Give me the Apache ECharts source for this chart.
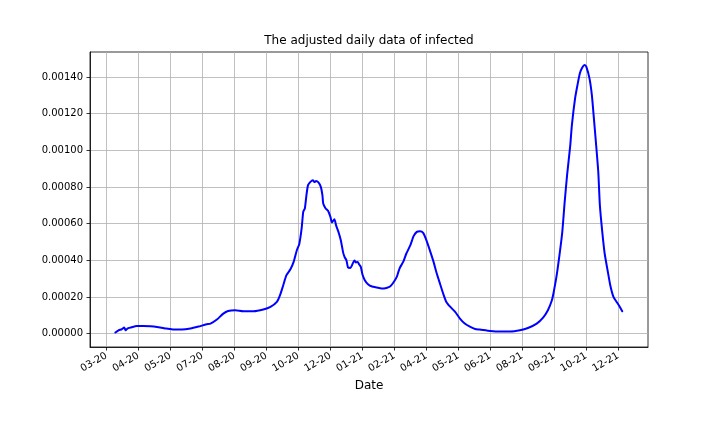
<!DOCTYPE html>
<html><head><meta charset="utf-8">
<script src="https://cdn.jsdelivr.net/npm/echarts@6/dist/echarts.min.js"></script>
<style>html,body{margin:0;padding:0;background:#fff}#c{width:720px;height:432px}</style>
</head><body><div id="c"></div>
<script>
// x = days since 2020-03-04 (date of the first labelled tick)
const days = [11,15,19,22,24,26,30,38,46,55,65,75,84,94,105,115,125,130,138,146,152,161,171,184,196,205,213,217,221,225,230,234,238,241,244,246,248,250,252,255,258,260,262,265,268,270,271,274,277,280,282,285,287,290,293,296,298,300,302,305,307,310,312,314,316,318,320,323,327,332,338,344,350,355,359,363,365,367,371,375,380,384,388,392,396,400,405,409,413,417,421,425,430,436,442,448,455,461,467,480,492,505,517,527,538,546,552,557,559,563,567,570,573,576,580,582,586,589,592,595,598,600,604,607,609,612,615,617,620,623,627,630,634,638,642,645];
const values = [0.0000055,0.000018,0.0000235,0.0000328,0.000018,0.0000273,0.0000328,0.0000415,0.0000415,0.0000399,0.0000344,0.0000273,0.0000219,0.0000219,0.0000273,0.0000382,0.0000508,0.0000546,0.0000765,0.000109,0.0001235,0.0001273,0.0001218,0.0001218,0.0001311,0.0001453,0.0001727,0.0002093,0.0002639,0.0003186,0.0003513,0.0003912,0.0004552,0.000488,0.0005737,0.0006644,0.000683,0.0007557,0.0008103,0.0008283,0.0008376,0.0008267,0.0008322,0.0008251,0.000801,0.0007557,0.0007103,0.000683,0.0006699,0.0006371,0.0006065,0.0006245,0.0005918,0.0005551,0.0005098,0.0004404,0.0004153,0.0004005,0.0003606,0.0003584,0.0003732,0.0003989,0.000388,0.0003912,0.000377,0.0003639,0.000324,0.0002912,0.0002694,0.0002568,0.0002513,0.0002459,0.0002492,0.0002584,0.0002803,0.0003093,0.0003366,0.0003606,0.0003912,0.0004371,0.0004825,0.0005316,0.0005551,0.000559,0.0005497,0.0005098,0.0004459,0.0003912,0.0003278,0.0002732,0.0002186,0.0001727,0.0001453,0.000118,0.000082,0.0000546,0.0000361,0.0000251,0.0000219,0.0000142,0.0000109,0.0000109,0.000018,0.0000306,0.0000546,0.0000874,0.0001273,0.000182,0.0002202,0.0003186,0.0004459,0.0005551,0.0007191,0.000865,0.001029,0.001138,0.001284,0.001357,0.001421,0.001453,0.001466,0.001457,0.001393,0.001302,0.001202,0.001047,0.000883,0.000701,0.0005551,0.0004371,0.0003366,0.0002639,0.0002,0.0001727,0.0001453,0.0001218];
const xTickDays = [0,40,80,120,160,200,240,280,320,360,400,440,480,520,560,600,640];
const xTickLabels = ['03-20','04-20','05-20','07-20','08-20','09-20','10-20','12-20','01-21','02-21','04-21','05-21','06-21','08-21','09-21','10-21','12-21'];
const yTicks = [0,0.0002,0.0004,0.0006,0.0008,0.001,0.0012,0.0014];

const FONT = 'DejaVu Sans';
const chart = echarts.init(document.getElementById('c'), null, {renderer:'canvas'});
chart.setOption({
  animation:false,
  backgroundColor:'#fff',
  title:{text:'The adjusted daily data of infected', left:369, top:35, padding:0, textAlign:'center',
    textStyle:{fontFamily:FONT, fontSize:12, fontWeight:'normal', color:'#000'}},
  grid:{left:90, right:72, top:52, bottom:85, show:true, borderColor:'#000', borderWidth:0.8, containLabel:false},
  xAxis:{type:'value', min:-20.7, max:677.2,
    name:'Date', nameLocation:'middle', nameGap:33,
    nameTextStyle:{fontFamily:FONT, fontSize:12, color:'#000'},
    axisLine:{show:true, onZero:false, lineStyle:{color:'#000', width:0.8}},
    axisTick:{show:true, customValues:xTickDays, length:3.5, lineStyle:{color:'#000', width:0.8}},
    axisLabel:{customValues:xTickDays, rotate:30, margin:8, fontFamily:FONT, fontSize:10, color:'#000',
      formatter:v=>{const i=xTickDays.indexOf(Math.round(v)); return i>=0?xTickLabels[i]:'';}},
    splitLine:{show:true, lineStyle:{color:'#b0b0b0', width:0.8}}},
  yAxis:{type:'value', min:-0.0000733, max:0.001537,
    axisLine:{show:true, onZero:false, lineStyle:{color:'#000', width:0.8}},
    axisTick:{show:true, customValues:yTicks, length:3.5, lineStyle:{color:'#000', width:0.8}},
    axisLabel:{customValues:yTicks, margin:7, fontFamily:FONT, fontSize:10, color:'#000',
      formatter:v=>v.toFixed(5)},
    splitLine:{show:true, lineStyle:{color:'#b0b0b0', width:0.8}}},
  series:[{type:'line', data:days.map((d,i)=>[d, values[i]]), showSymbol:false, smooth:0.2,
    lineStyle:{color:'#0000ff', width:2, join:'round', cap:'round'}, itemStyle:{color:'#0000ff'}}]
});
</script></body></html>
